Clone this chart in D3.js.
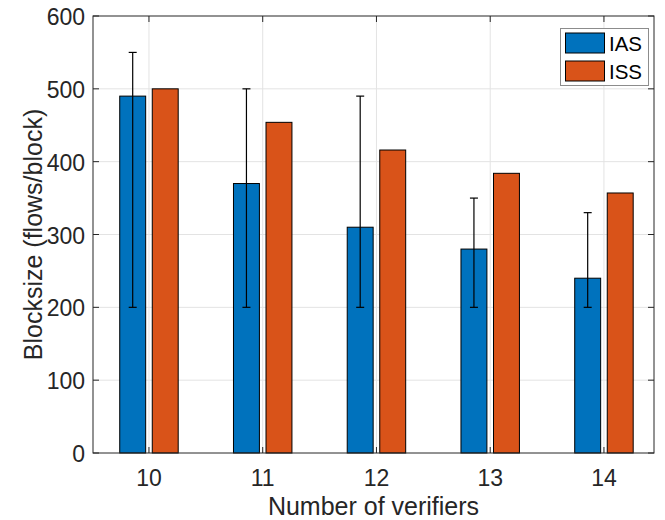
<!DOCTYPE html>
<html>
<head>
<meta charset="utf-8">
<style>
  body { margin: 0; background: #fff; font-family: "Liberation Sans", Arial, sans-serif; }
  .grid line { stroke: #e3e3e3; stroke-width: 1px; }
  .tick-label { fill: #262626; font-size: 23px; }
  .axis-label { fill: #262626; font-size: 25px; }
  .legend-label { fill: #000; font-size: 20.5px; }
</style>
</head>
<body>
<script src="https://cdn.jsdelivr.net/npm/d3@7"></script>
<script>
// data
var verifiers = [10, 11, 12, 13, 14];
var iasValues = [490, 370, 310, 280, 240];
var iasLow    = [200, 200, 200, 200, 200];
var iasHigh   = [550, 500, 490, 350, 330];
var issValues = [500, 454, 416, 384, 357];
var yTicks    = [0, 100, 200, 300, 400, 500, 600];
var seriesNames = ["IAS", "ISS"];
var seriesColors = ["#0072BD", "#D95319"];

var width = 665, height = 520;
var pLeft = 93, pRight = 654, pTop = 16, pBottom = 453;

var svg = d3.select("body").append("svg")
    .attr("width", width)
    .attr("height", height);

var x = d3.scaleLinear().domain([9.508, 14.44]).range([pLeft, pRight]);
var y = d3.scaleLinear().domain([0, 600]).range([pBottom, pTop]);

var barW = 0.228, off = 0.143;

// grid
var grid = svg.append("g").attr("class", "grid");
grid.selectAll(".gy").data(yTicks.slice(1, -1)).enter().append("line")
    .attr("x1", pLeft).attr("x2", pRight)
    .attr("y1", function(d){ return y(d); }).attr("y2", function(d){ return y(d); });
grid.selectAll(".gx").data(verifiers).enter().append("line")
    .attr("y1", pTop).attr("y2", pBottom)
    .attr("x1", function(d){ return x(d); }).attr("x2", function(d){ return x(d); });

// bars
function drawBars(vals, dx, color) {
  svg.append("g").selectAll("rect").data(vals).enter().append("rect")
      .attr("x", function(d, i){ return x(verifiers[i] + dx - barW / 2); })
      .attr("width", x(barW) - x(0))
      .attr("y", function(d){ return y(d); })
      .attr("height", function(d){ return y(0) - y(d); })
      .attr("fill", color)
      .attr("stroke", "#000")
      .attr("stroke-width", 1);
}
drawBars(iasValues, -off, seriesColors[0]);
drawBars(issValues, off, seriesColors[1]);

// error bars on IAS
var eb = svg.append("g").attr("stroke", "#000").attr("stroke-width", 1.2);
verifiers.forEach(function(v, i){
  var cx = x(v - off);
  eb.append("line").attr("x1", cx).attr("x2", cx)
      .attr("y1", y(iasLow[i])).attr("y2", y(iasHigh[i]));
  [iasLow[i], iasHigh[i]].forEach(function(e){
    eb.append("line").attr("x1", cx - 4).attr("x2", cx + 4)
        .attr("y1", y(e)).attr("y2", y(e));
  });
});

// axes box with inward ticks
var ax = svg.append("g").attr("stroke", "#262626").attr("stroke-width", 1).attr("fill", "none");
ax.append("rect").attr("x", pLeft).attr("y", pTop)
    .attr("width", pRight - pLeft).attr("height", pBottom - pTop);
var tl = 6;
yTicks.forEach(function(t){
  ax.append("line").attr("x1", pLeft).attr("x2", pLeft + tl).attr("y1", y(t)).attr("y2", y(t));
  ax.append("line").attr("x1", pRight).attr("x2", pRight - tl).attr("y1", y(t)).attr("y2", y(t));
});
verifiers.forEach(function(v){
  ax.append("line").attr("x1", x(v)).attr("x2", x(v)).attr("y1", pBottom).attr("y2", pBottom - tl);
  ax.append("line").attr("x1", x(v)).attr("x2", x(v)).attr("y1", pTop).attr("y2", pTop + tl);
});

// tick labels
svg.selectAll(".yl").data(yTicks).enter().append("text")
    .attr("class", "tick-label")
    .attr("x", pLeft - 8)
    .attr("y", function(d){ return y(d) + 9; })
    .attr("text-anchor", "end")
    .text(function(d){ return d; });
svg.selectAll(".xl").data(verifiers).enter().append("text")
    .attr("class", "tick-label")
    .attr("x", function(d){ return x(d); })
    .attr("y", 486)
    .attr("text-anchor", "middle")
    .text(function(d){ return d; });

// axis titles
svg.append("text").attr("class", "axis-label")
    .attr("x", (pLeft + pRight) / 2).attr("y", 515)
    .attr("text-anchor", "middle")
    .text("Number of verifiers");
svg.append("text").attr("class", "axis-label")
    .attr("transform", "translate(42," + (pTop + pBottom) / 2 + ") rotate(-90)")
    .attr("text-anchor", "middle")
    .text("Blocksize (flows/block)");

// legend
var lg = svg.append("g");
lg.append("rect").attr("x", 560.5).attr("y", 28.5).attr("width", 88).attr("height", 57)
    .attr("fill", "#fff").attr("stroke", "#8c8c8c").attr("stroke-width", 1);
seriesNames.forEach(function(n, i){
  var yy = 33 + i * 28;
  lg.append("rect").attr("x", 565.5).attr("y", yy).attr("width", 39).attr("height", 20)
      .attr("fill", seriesColors[i]).attr("stroke", "#000").attr("stroke-width", 1);
  lg.append("text").attr("class", "legend-label")
      .attr("x", 609).attr("y", yy + 18)
      .text(n);
});
</script>
</body>
</html>
